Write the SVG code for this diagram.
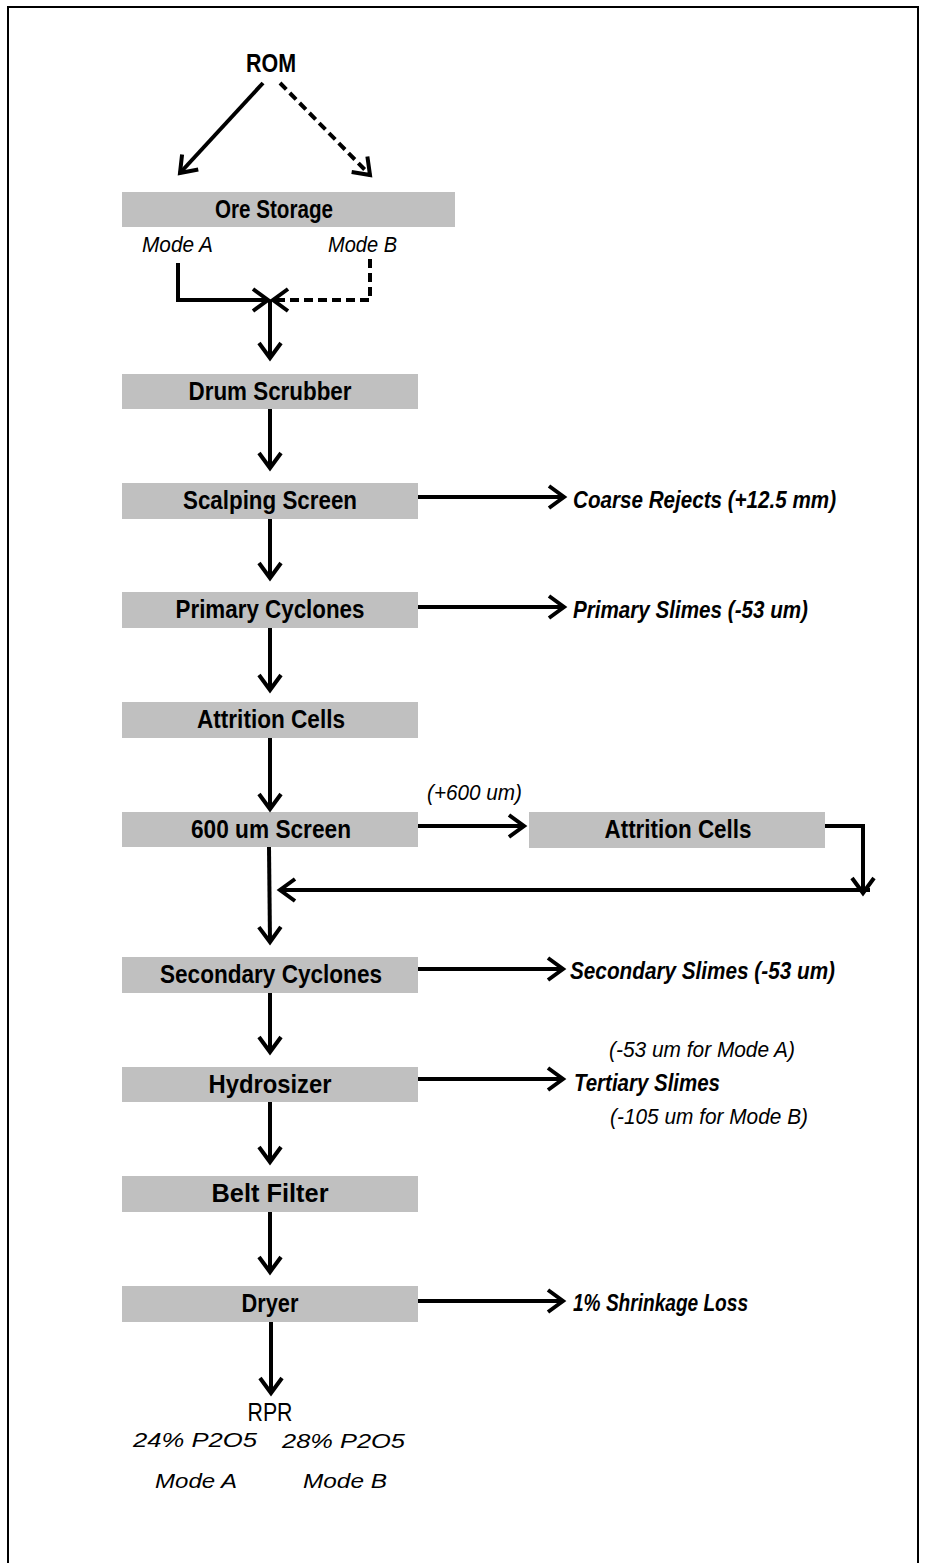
<svg xmlns="http://www.w3.org/2000/svg" width="925" height="1563" viewBox="0 0 925 1563">
<style>
.box{fill:#c0c0c0}
.lbl{font-family:"Liberation Sans",Arial,sans-serif;font-size:25px;font-weight:bold;fill:#000;text-anchor:middle}
.out{font-family:"Liberation Sans",Arial,sans-serif;font-size:23px;font-weight:bold;font-style:italic;fill:#000}
.note{font-family:"Liberation Sans",Arial,sans-serif;font-size:22px;font-style:italic;fill:#000}
.note2{font-family:"Liberation Sans",Arial,sans-serif;font-size:20px;font-style:italic;fill:#000}
.ln{fill:none;stroke:#000;stroke-width:4;marker-end:url(#ah)}
.dash{stroke-dasharray:9 5}
</style>
<defs>
<marker id="ah" markerUnits="userSpaceOnUse" markerWidth="30" markerHeight="30" refX="17" refY="12" orient="auto" overflow="visible">
<path d="M2,1 L17,12 L2,23" fill="none" stroke="#000" stroke-width="4"/>
</marker>
</defs>
<rect width="925" height="1563" fill="#fff"/>
<path d="M8,1563 V7 H918 V1563" fill="none" stroke="#000" stroke-width="2"/>

<g id="rom"><text class="lbl" x="271" y="72" textLength="50" lengthAdjust="spacingAndGlyphs">ROM</text></g>
<g id="ore-storage"><rect class="box" x="122" y="192" width="333" height="35"/><text class="lbl" x="274" y="218" textLength="118" lengthAdjust="spacingAndGlyphs">Ore Storage</text></g>
<g id="mode-labels"><text class="note" x="142" y="252" textLength="71" lengthAdjust="spacingAndGlyphs">Mode A</text><text class="note" x="328" y="252" textLength="69" lengthAdjust="spacingAndGlyphs">Mode B</text></g>
<g id="drum-scrubber"><rect class="box" x="122" y="374" width="296" height="35"/><text class="lbl" x="270" y="400" textLength="163" lengthAdjust="spacingAndGlyphs">Drum Scrubber</text></g>
<g id="scalping-screen"><rect class="box" x="122" y="483" width="296" height="36"/><text class="lbl" x="270" y="509" textLength="174" lengthAdjust="spacingAndGlyphs">Scalping Screen</text></g>
<g id="primary-cyclones"><rect class="box" x="122" y="592" width="296" height="36"/><text class="lbl" x="270" y="618" textLength="189" lengthAdjust="spacingAndGlyphs">Primary Cyclones</text></g>
<g id="attrition-cells-1"><rect class="box" x="122" y="702" width="296" height="36"/><text class="lbl" x="271" y="728" textLength="148" lengthAdjust="spacingAndGlyphs">Attrition Cells</text></g>
<g id="screen-600"><rect class="box" x="122" y="812" width="296" height="35"/><text class="lbl" x="271" y="838" textLength="160" lengthAdjust="spacingAndGlyphs">600 um Screen</text></g>
<g id="attrition-cells-2"><rect class="box" x="529" y="812" width="296" height="36"/><text class="lbl" x="678" y="838" textLength="147" lengthAdjust="spacingAndGlyphs">Attrition Cells</text></g>
<g id="secondary-cyclones"><rect class="box" x="122" y="957" width="296" height="36"/><text class="lbl" x="271" y="983" textLength="222" lengthAdjust="spacingAndGlyphs">Secondary Cyclones</text></g>
<g id="hydrosizer"><rect class="box" x="122" y="1067" width="296" height="35"/><text class="lbl" x="270" y="1093" textLength="123" lengthAdjust="spacingAndGlyphs">Hydrosizer</text></g>
<g id="belt-filter"><rect class="box" x="122" y="1176" width="296" height="36"/><text class="lbl" x="270" y="1202" textLength="117" lengthAdjust="spacingAndGlyphs">Belt Filter</text></g>
<g id="dryer"><rect class="box" x="122" y="1286" width="296" height="36"/><text class="lbl" x="270" y="1312" textLength="57" lengthAdjust="spacingAndGlyphs">Dryer</text></g>

<g id="coarse-rejects"><text class="out" x="573" y="508" textLength="263" lengthAdjust="spacingAndGlyphs">Coarse Rejects (+12.5 mm)</text></g>
<g id="primary-slimes"><text class="out" x="573" y="618" textLength="235" lengthAdjust="spacingAndGlyphs">Primary Slimes (-53 um)</text></g>
<g id="plus600"><text class="note" x="427" y="800" textLength="95" lengthAdjust="spacingAndGlyphs">(+600 um)</text></g>
<g id="secondary-slimes"><text class="out" x="570" y="979" textLength="265" lengthAdjust="spacingAndGlyphs">Secondary Slimes (-53 um)</text></g>
<g id="tertiary-slimes"><text class="note" x="609" y="1057" textLength="186" lengthAdjust="spacingAndGlyphs">(-53 um for Mode A)</text><text class="out" x="574" y="1091" textLength="146" lengthAdjust="spacingAndGlyphs">Tertiary Slimes</text><text class="note" x="610" y="1124" textLength="198" lengthAdjust="spacingAndGlyphs">(-105 um for Mode B)</text></g>
<g id="shrinkage"><text class="out" x="573" y="1311" textLength="175" lengthAdjust="spacingAndGlyphs">1% Shrinkage Loss</text></g>
<g id="rpr"><text class="lbl" x="270" y="1421" textLength="45" lengthAdjust="spacingAndGlyphs" style="font-weight:normal">RPR</text>
<text class="note2" x="133" y="1447" textLength="124" lengthAdjust="spacingAndGlyphs">24% P2O5</text><text class="note2" x="282" y="1448" textLength="123" lengthAdjust="spacingAndGlyphs">28% P2O5</text>
<text class="note2" x="155" y="1488" textLength="82" lengthAdjust="spacingAndGlyphs">Mode A</text><text class="note2" x="303" y="1488" textLength="84" lengthAdjust="spacingAndGlyphs">Mode B</text></g>

<g id="connectors">
<path class="ln" d="M263,83 L180,173"/>
<path class="ln dash" d="M280,83 L370,175"/>
<path class="ln" d="M178,263 V300 H268"/>
<path class="ln dash" d="M370,259 V300 H273"/>
<path class="ln" d="M270,300 V358"/>
<path class="ln" d="M270,409 V468"/>
<path class="ln" d="M270,519 V578"/>
<path class="ln" d="M270,628 V690"/>
<path class="ln" d="M270,738 V809"/>
<path class="ln" d="M269,847 L270,942"/>
<path class="ln" d="M270,993 V1052"/>
<path class="ln" d="M270,1102 V1162"/>
<path class="ln" d="M270,1212 V1272"/>
<path class="ln" d="M271,1322 V1393"/>
<path class="ln" d="M418,497 H564"/>
<path class="ln" d="M418,607 H564"/>
<path class="ln" d="M418,826 H524"/>
<path class="ln" d="M418,969 H563"/>
<path class="ln" d="M418,1079 H563"/>
<path class="ln" d="M418,1301 H563"/>
<path class="ln" d="M825,826 H863 V893"/>
<path class="ln" d="M870,890 H280"/>
</g>
</svg>
